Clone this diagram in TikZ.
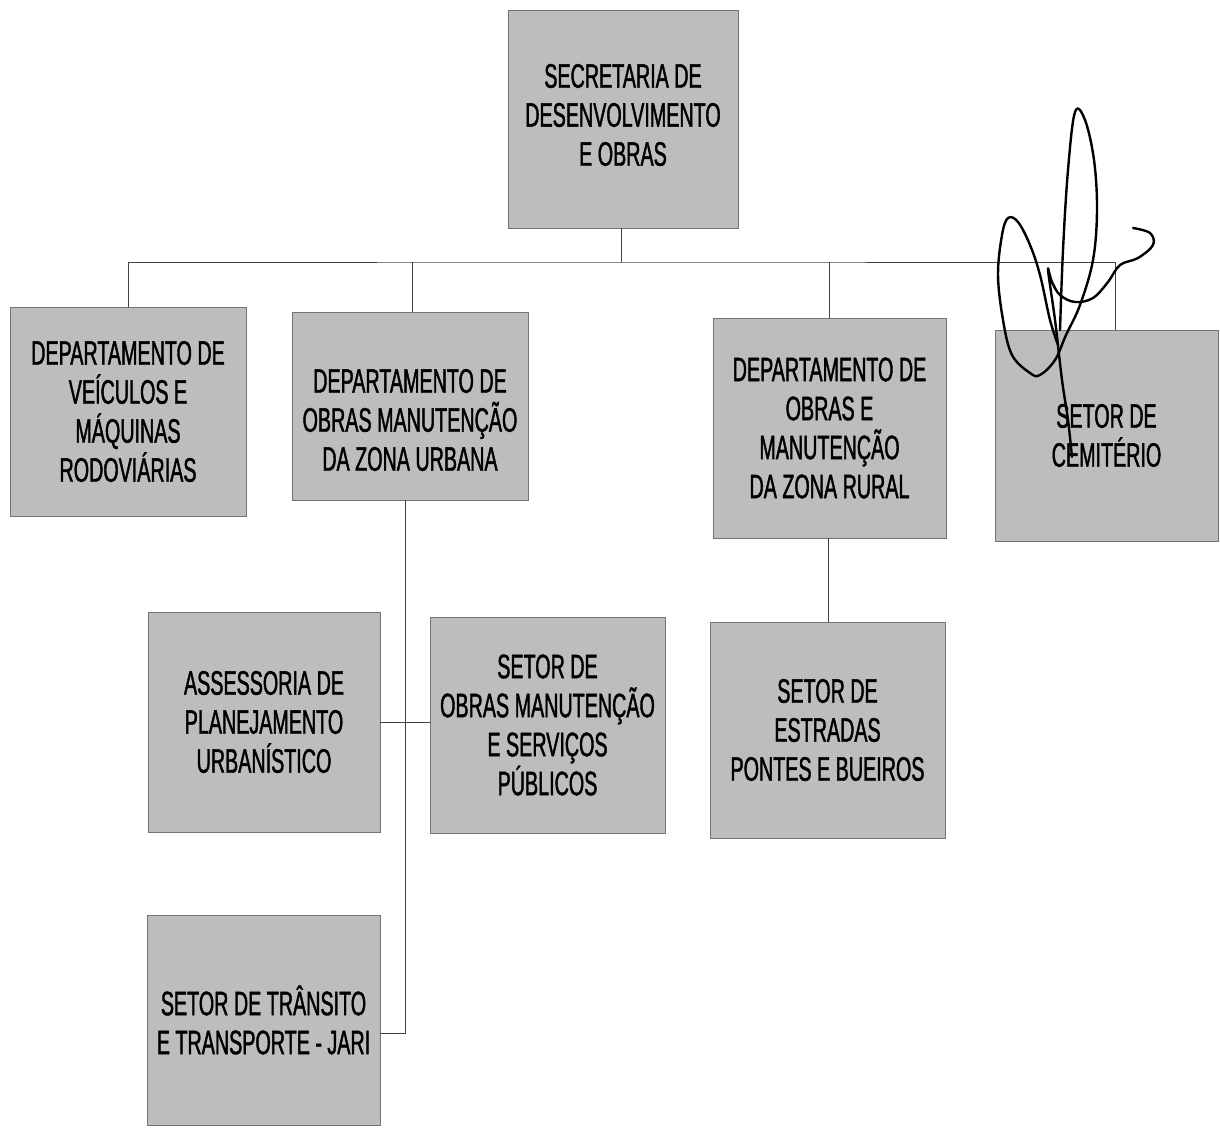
\documentclass[tikz,border=0pt]{standalone}
\usepackage{fontspec}
\setmainfont{Liberation Sans}[FakeStretch=0.58,FakeBold=1.2]
\definecolor{boxgray}{gray}{0.74}
\tikzset{
  orgbox/.style={draw=black!55, line width=0.8pt, fill=boxgray, align=center,
    inner sep=2pt, font=\fontsize{34}{39}\selectfont, text=black},
  boxtext/.style={align=center, inner sep=0pt, font=\fontsize{34}{39}\selectfont, text=black},
  link/.style={draw=black!75, line width=1pt},
  sig/.style={draw=black, line width=2.4pt, line cap=round, line join=round}
}
\begin{document}
\begin{tikzpicture}[x=1pt,y=-1pt]
\useasboundingbox (0,0) rectangle (1220,1132);
\node[orgbox, minimum width=230pt, minimum height=218pt] (top) at (623,119) {};
\node[boxtext] at ([yshift=4pt]top.center) {SECRETARIA DE\\DESENVOLVIMENTO\\E OBRAS};
\node[orgbox, minimum width=236pt, minimum height=209pt] (veic) at (128,411.5)
  {DEPARTAMENTO DE\\VEÍCULOS E\\MÁQUINAS\\RODOVIÁRIAS};
\node[orgbox, minimum width=236pt, minimum height=188pt] (urb) at (410,406) {};
\node[boxtext] at ([yshift=-14pt]urb.center) {DEPARTAMENTO DE\\OBRAS MANUTENÇÃO\\DA ZONA URBANA};
\node[orgbox, minimum width=233pt, minimum height=220pt] (rur) at (829.5,428)
  {DEPARTAMENTO DE\\OBRAS E\\MANUTENÇÃO\\DA ZONA RURAL};
\node[orgbox, minimum width=223pt, minimum height=211pt] (cem) at (1106.5,435.5)
  {SETOR DE\\CEMITÉRIO};
\node[orgbox, minimum width=232pt, minimum height=220pt] (ass) at (264,722)
  {ASSESSORIA DE\\PLANEJAMENTO\\URBANÍSTICO};
\node[orgbox, minimum width=235pt, minimum height=216pt] (sob) at (547.5,725)
  {SETOR DE\\OBRAS MANUTENÇÃO\\E SERVIÇOS\\PÚBLICOS};
\node[orgbox, minimum width=235pt, minimum height=216pt] (est) at (827.5,730)
  {SETOR DE\\ESTRADAS\\PONTES E BUEIROS};
\node[orgbox, minimum width=233pt, minimum height=210pt] (tra) at (263.5,1020)
  {SETOR DE TRÂNSITO\\E TRANSPORTE - JARI};

\coordinate (bus) at (621,262);
\draw[link] ([xshift=-2pt]top.south) -- (bus);
\draw[link] (veic.north) |- (bus) -| ([xshift=8.5pt]cem.north);
\draw[link] ([xshift=2pt]urb.north) -- ([xshift=2pt]urb.north |- bus);
\draw[link] (rur.north) -- (rur.north |- bus);
\draw[link] ([xshift=-5pt]urb.south) |- ([yshift=-13pt]tra.east);
\draw[link] (ass.east) -- (ass.east -| sob.west);
\draw[link] ([xshift=-1.5pt]rur.south) -- ([xshift=-1.5pt]rur.south |- est.north);

% handwritten signature
\draw[sig] plot[smooth, tension=0.6] coordinates {
  (1133,228) (1150,233) (1153,245) (1138,258) (1120,265) (1108,282)
  (1093,298) (1075,302) (1060,295) (1052,282) (1048,270)
  (1055,320) (1062,380) (1068,420) (1072,457)};
\draw[sig] plot[smooth, tension=0.6] coordinates {
  (1060,330) (1063,250) (1068,170) (1075,112) (1085,120) (1094,160)
  (1097,210) (1093,260) (1080,305) (1066,335) (1055,360) (1040,375)
  (1030,373) (1012,355) (1003,320) (998,275) (1002,235) (1008,218)
  (1018,222) (1030,245) (1040,275) (1050,320) (1058,345)};
\end{tikzpicture}
\end{document}
